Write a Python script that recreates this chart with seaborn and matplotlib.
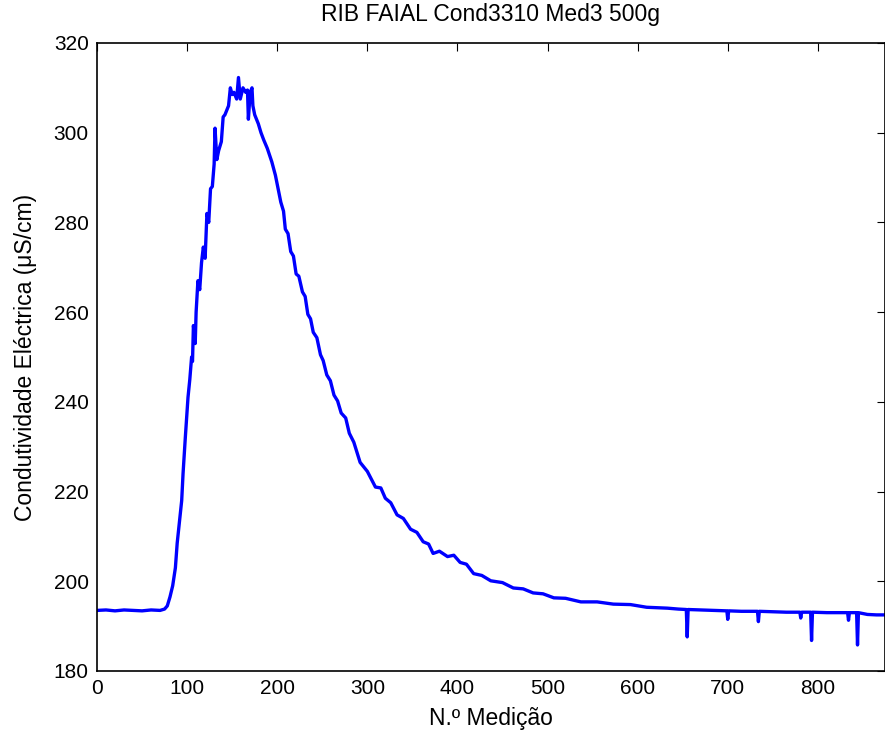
import matplotlib
matplotlib.use('Agg')
import matplotlib.pyplot as plt
import seaborn as sns
import pandas as pd

# values
medicao = [0, 10, 20, 30, 40, 50, 60, 70, 75, 78,
           81, 84, 87, 89, 92, 94, 95.5, 97, 98, 101,
           103, 105, 106, 107, 109, 110, 112, 114, 116, 118,
           120, 122, 124, 126, 128, 130, 131, 133, 135, 138,
           140, 142, 144, 146, 148, 150, 152, 155, 157, 159,
           162, 165, 167, 168, 170, 172, 173, 175, 177, 179,
           182, 185, 189, 194, 198, 201, 204, 207, 209, 212,
           215, 218, 221, 224, 228, 231, 234, 237, 240, 244,
           248, 251, 255, 259, 263, 267, 271, 276, 280, 285,
           292, 300, 309, 315, 320, 326, 333, 340, 348, 355,
           362, 368, 373, 380, 389, 396, 403, 410, 418, 427,
           437, 450, 462, 473, 484, 495, 507, 520, 537, 555,
           573, 592, 610, 633, 645, 654, 655, 656, 670, 685,
           695, 699, 700, 701, 715, 733, 734, 735, 750, 765,
           780, 781, 782, 792, 793, 794, 810, 825, 833, 834,
           835, 843, 844, 845, 855, 865, 875]

condutividade = [193.5, 193.6, 193.4, 193.6, 193.5, 193.4, 193.6, 193.5, 193.8, 194.5,
                 196.5, 199.0, 203.0, 208.5, 214.3, 218.0, 224.0, 229.0, 232.0, 241.0,
                 245.0, 250.0, 249.0, 257.0, 253.0, 260.0, 267.0, 265.0, 271.0, 274.5,
                 272.0, 282.0, 280.0, 287.5, 288.0, 293.0, 301.0, 294.0, 296.0, 298.0,
                 303.5, 304.0, 305.0, 306.0, 310.0, 308.5, 309.0, 307.5, 312.3, 307.5,
                 310.0, 309.0, 309.5, 303.0, 309.0, 310.0, 306.0, 304.0, 303.0, 302.0,
                 300.0, 298.4, 296.5, 293.5, 290.5, 287.5, 284.5, 282.5, 278.5, 277.5,
                 273.5, 272.5, 268.5, 268.0, 264.5, 263.5, 259.5, 258.5, 255.5, 254.3,
                 250.5, 249.2, 246.0, 244.7, 241.5, 240.2, 237.5, 236.4, 233.0, 231.0,
                 226.5, 224.5, 221.0, 220.8, 218.5, 217.5, 214.8, 214.0, 211.6, 210.9,
                 208.8, 208.3, 206.2, 206.7, 205.5, 205.8, 204.2, 203.8, 201.7, 201.3,
                 200.1, 199.7, 198.5, 198.3, 197.4, 197.2, 196.3, 196.2, 195.4, 195.4,
                 194.9, 194.8, 194.2, 194.0, 193.8, 193.7, 187.6, 193.7, 193.6, 193.5,
                 193.4, 193.4, 191.5, 193.4, 193.3, 193.3, 191.0, 193.3, 193.2, 193.1,
                 193.1, 191.8, 193.1, 193.1, 186.8, 193.1, 193.0, 193.0, 193.0, 191.3,
                 193.0, 193.0, 185.8, 193.0, 192.6, 192.5, 192.5]

x_ticks = [0, 100, 200, 300, 400, 500, 600, 700, 800]
y_ticks = [180, 200, 220, 240, 260, 280, 300, 320]

df = pd.DataFrame({'N': medicao, 'C': condutividade})

sns.set_style('white')
plt.rcParams['font.family'] = ['Liberation Sans', 'DejaVu Sans']
plt.rcParams['text.color'] = 'black'
plt.rcParams['axes.labelcolor'] = 'black'

fig = plt.figure(figsize=(8.85, 7.37), dpi=100)
ax = fig.add_axes([0.1096, 0.0896, 0.8904, 0.8521])

sns.lineplot(data=df, x='N', y='C', color='#0000ff', linewidth=2.4,
             estimator=None, sort=False, ax=ax)

ax.set_xlim(0, 874.5)
ax.set_ylim(180, 320)
ax.set_xticks(x_ticks)
ax.set_yticks(y_ticks)
ax.tick_params(direction='in', length=6, width=0.8, top=True, right=True,
               labelsize=15, pad=6, colors='black')
for s in ax.spines.values():
    s.set_visible(True)
    s.set_color('black')
    s.set_linewidth(1.2)

ax.set_xlabel('N.º Medição', fontsize=16.5, labelpad=6)
ax.set_ylabel('Condutividade Eléctrica (μS/cm)', fontsize=16.5, labelpad=12)
ax.set_title('RIB FAIAL Cond3310 Med3 500g', fontsize=16.5, pad=16)

fig.savefig('out.png', dpi=100)
